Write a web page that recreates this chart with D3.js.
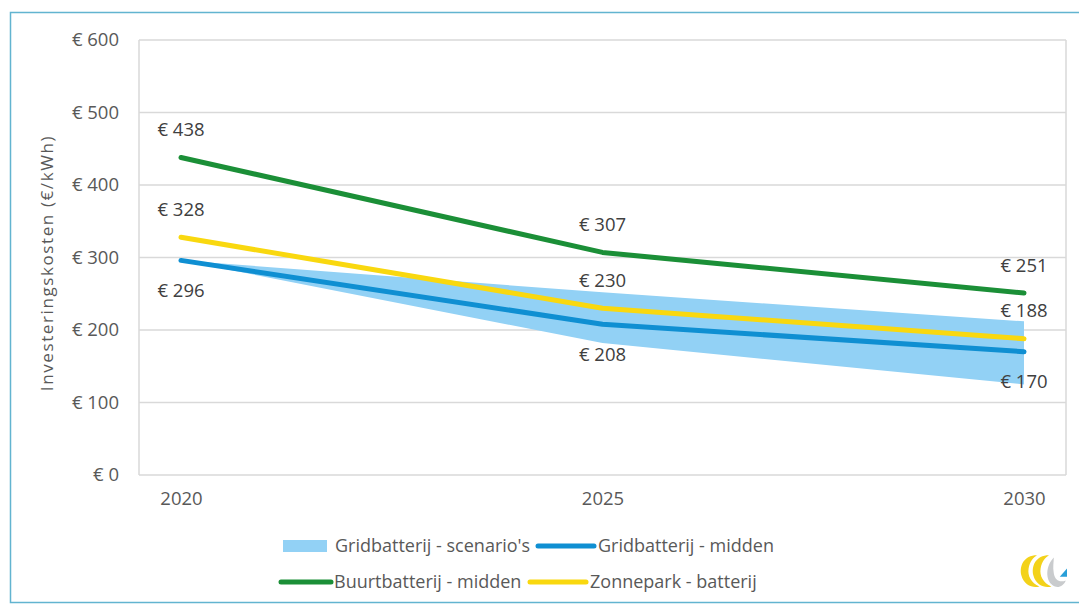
<!DOCTYPE html>
<html>
<head>
<meta charset="utf-8">
<script src="https://cdn.jsdelivr.net/npm/d3@7"></script>
<style>
  html, body { margin: 0; padding: 0; background: #fff; }
  svg { display: block; }
  text { font-family: "Open Sans", "Noto Sans", sans-serif; }
</style>
</head>
<body>
<svg id="chart" width="1079" height="607"></svg>
<script>
// Investment cost per kWh of storage, 2020–2030
const years = [2020, 2025, 2030];
const yTicks = [0, 100, 200, 300, 400, 500, 600];
const gridScenarioLow = [296, 182, 125];
const gridScenarioHigh = [296, 252, 212];
const gridMidden = [296, 208, 170];
const buurtMidden = [438, 307, 251];
const zonnepark = [328, 230, 188];

const seriesNames = {
  band: "Gridbatterij - scenario's",
  grid: "Gridbatterij - midden",
  buurt: "Buurtbatterij - midden",
  zon: "Zonnepark - batterij"
};

const colors = {
  band: "#92d1f5",
  grid: "#0f8fd2",
  buurt: "#1b8f37",
  zon: "#f9d80f",
  grid_line: "#d9d9d9",
  frame: "#62b4d0",
  label: "#404040",
  axis: "#595959"
};

const svg = d3.select("#chart");
const euro = v => "€ " + v;
const fs = 18.5;

// outer frame
svg.append("rect")
  .attr("x", 10.5).attr("y", 12.5)
  .attr("width", 1100).attr("height", 590)
  .attr("fill", "none")
  .attr("stroke", colors.frame)
  .attr("stroke-width", 1.5);

const plot = { left: 139, right: 1066, top: 40, bottom: 475 };

const x = d3.scaleLinear().domain([2020, 2030]).range([181, 1024]);
const y = d3.scaleLinear().domain([0, 600]).range([plot.bottom, plot.top]);

// value axis labels
const yAxis = d3.axisLeft(y).tickValues(yTicks).tickSize(0).tickPadding(20).tickFormat(euro);
const gy = svg.append("g").attr("transform", `translate(${plot.left},0)`).call(yAxis);
gy.select(".domain").remove();
gy.selectAll("text").attr("fill", colors.axis).attr("font-size", fs);

// horizontal gridlines
svg.append("g").selectAll("line").data(yTicks).join("line")
  .attr("x1", plot.left).attr("x2", plot.right)
  .attr("y1", d => y(d)).attr("y2", d => y(d))
  .attr("stroke", colors.grid_line).attr("stroke-width", 1.5);

// plot frame sides
svg.append("g").selectAll("line").data([plot.left, plot.right]).join("line")
  .attr("x1", d => d).attr("x2", d => d)
  .attr("y1", plot.top).attr("y2", plot.bottom)
  .attr("stroke", colors.grid_line).attr("stroke-width", 1.5);

// x axis labels
const xAxis = d3.axisBottom(x).tickValues(years).tickSize(0).tickPadding(17).tickFormat(d3.format("d"));
const gx = svg.append("g").attr("transform", `translate(0,${plot.bottom})`).call(xAxis);
gx.select(".domain").remove();
gx.selectAll("text").attr("fill", colors.axis).attr("font-size", fs);

// y axis title
svg.append("text")
  .attr("transform", `translate(53,263) rotate(-90)`)
  .attr("text-anchor", "middle")
  .attr("fill", colors.axis)
  .attr("font-size", 17)
  .attr("letter-spacing", 1.6)
  .text("Investeringskosten (€/kWh)");

// scenario band
const area = d3.area()
  .x((d, i) => x(years[i]))
  .y0(d => y(d[0]))
  .y1(d => y(d[1]));
svg.append("path")
  .datum(gridScenarioLow.map((v, i) => [v, gridScenarioHigh[i]]))
  .attr("d", area)
  .attr("fill", colors.band);

const line = d3.line().x((d, i) => x(years[i])).y(d => y(d));
const lines = [
  { key: "grid", values: gridMidden },
  { key: "zon", values: zonnepark },
  { key: "buurt", values: buurtMidden }
];
svg.append("g").selectAll("path").data(lines).join("path")
  .attr("d", d => line(d.values))
  .attr("fill", "none")
  .attr("stroke", d => colors[d.key])
  .attr("stroke-width", 5)
  .attr("stroke-linejoin", "round")
  .attr("stroke-linecap", "round");

// data labels: above for buurt and zonnepark, below for grid midden
const labels = [];
years.forEach((yr, i) => {
  labels.push({ yr, v: buurtMidden[i], dy: -28 });
  labels.push({ yr, v: zonnepark[i], dy: -28 });
  labels.push({ yr, v: gridMidden[i], dy: 30 });
});
svg.append("g").selectAll("text").data(labels).join("text")
  .attr("x", d => x(d.yr))
  .attr("y", d => y(d.v) + d.dy)
  .attr("dy", "0.35em")
  .attr("text-anchor", "middle")
  .attr("fill", colors.label)
  .attr("font-size", fs)
  .text(d => euro(d.v));

// legend
const legend = [
  { key: "band", x: 283, y: 546, kind: "rect" },
  { key: "grid", x: 538, y: 546, kind: "line" },
  { key: "buurt", x: 281, y: 582, kind: "line" },
  { key: "zon", x: 530, y: 582, kind: "line" }
];
const lg = svg.append("g").selectAll("g").data(legend).join("g")
  .attr("transform", d => `translate(${d.x},${d.y})`);
lg.filter(d => d.kind === "rect").append("rect")
  .attr("x", 0).attr("y", -6).attr("width", 44).attr("height", 12)
  .attr("fill", colors.band);
lg.filter(d => d.kind === "line").append("line")
  .attr("x1", 0).attr("x2", d => d.key === "buurt" ? 50 : 56)
  .attr("y1", 0).attr("y2", 0)
  .attr("stroke", d => colors[d.key]).attr("stroke-width", 5)
  .attr("stroke-linecap", "round");
lg.append("text")
  .attr("x", d => d.kind === "rect" ? 52 : (d.key === "buurt" ? 53 : 60))
  .attr("dy", "0.35em")
  .attr("fill", colors.axis)
  .attr("font-size", 18)
  .text(d => seriesNames[d.key]);

// small brand mark, bottom right
const logo = svg.append("g").attr("transform", "translate(1019,554) scale(1.2)");
logo.append("path")
  .attr("d", "M15,1 C4,1 0,10 2,18 C4,26 12,29 17,27 C10,24 7,18 8,12 C9,6 12,3 15,1 Z")
  .attr("fill", "#f3d21a");
logo.append("path")
  .attr("d", "M25,1 C14,1 10,10 12,18 C14,26 22,29 27,27 C20,24 17,18 18,12 C19,6 22,3 25,1 Z")
  .attr("fill", "#f3d21a");
logo.append("path")
  .attr("d", "M29,3 C22,10 22,22 28,26 C32,29 37,27 39,22 C34,24 30,22 29,16 C28,11 29,7 29,3 Z")
  .attr("fill", "#c9cbcd");
logo.append("path")
  .attr("d", "M34,19 L40,12 L40,19 Z")
  .attr("fill", "#2a9fd8");
</script>
</body>
</html>
